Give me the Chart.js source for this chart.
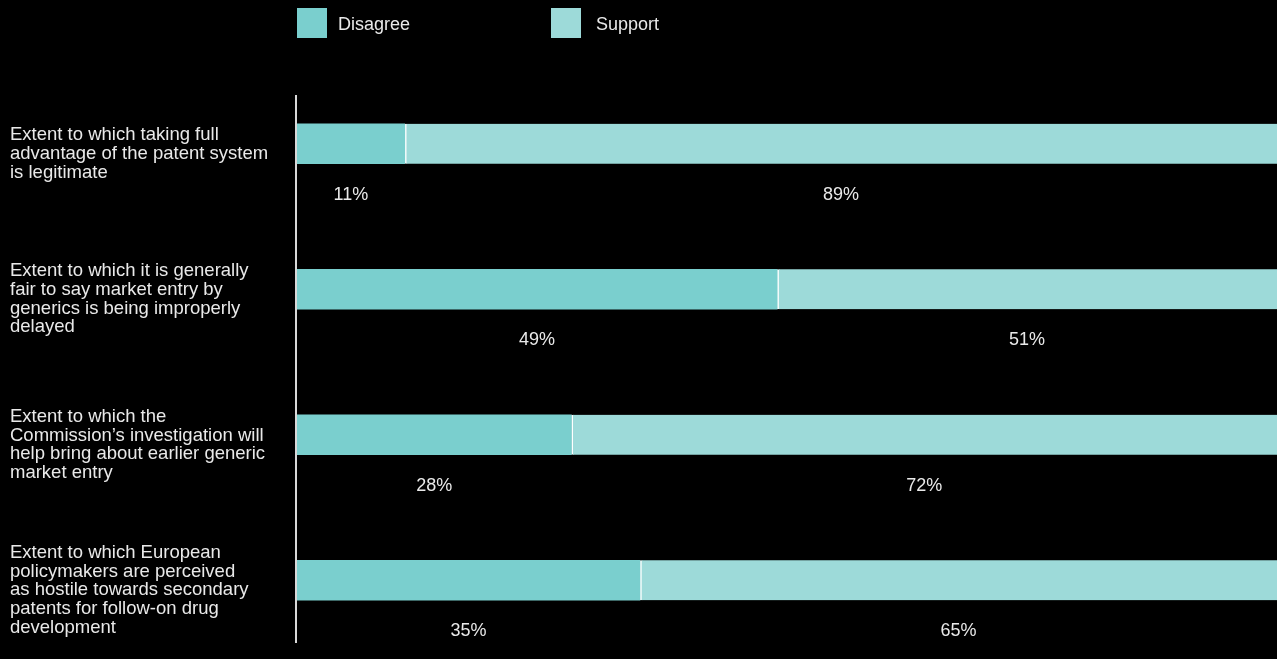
<!DOCTYPE html>
<html>
<head>
<meta charset="utf-8">
<script src="https://cdn.jsdelivr.net/npm/chart.js@4.4.1/dist/chart.umd.min.js"></script>
<style>
  html, body { margin: 0; padding: 0; background: #000; }
  #wrap { width: 1277px; height: 659px; position: relative; }
</style>
</head>
<body>
<div id="wrap"><canvas id="c"></canvas></div>
<script>
const categories = [
  ["Extent to which taking full", "advantage of the patent system", "is legitimate"],
  ["Extent to which it is generally", "fair to say market entry by", "generics is being improperly", "delayed"],
  ["Extent to which the", "Commission\u2019s investigation will", "help bring about earlier generic", "market entry"],
  ["Extent to which European", "policymakers are perceived", "as hostile towards secondary", "patents for follow-on drug", "development"]
];
const seriesNames = ["Disagree", "Support"];
const disagreeValues = [11, 49, 28, 35];
const supportValues = [89, 51, 72, 65];

const COL_DIS = "#7acfce";
const COL_SUP = "#9ddad9";
const TEXT = "#e9e9e9";
const FONT = "Liberation Sans, Arial, Helvetica, sans-serif";

const overlayPlugin = {
  id: "overlay",
  afterDraw(chart) {
    const ctx = chart.ctx;
    const area = chart.chartArea;
    ctx.save();
    // axis line
    ctx.strokeStyle = "#d8d8d8";
    ctx.lineWidth = 2;
    ctx.beginPath();
    ctx.moveTo(area.left - 1, area.top + 24);
    ctx.lineTo(area.left - 1, area.bottom - 10);
    ctx.stroke();
    // value labels below segments
    ctx.font = "18px " + FONT;
    ctx.fillStyle = TEXT;
    ctx.textAlign = "center";
    ctx.textBaseline = "middle";
    chart.data.datasets.forEach((ds, di) => {
      const meta = chart.getDatasetMeta(di);
      meta.data.forEach((el, i) => {
        const p = el.getProps(["x", "y", "base", "height"], true);
        const cx = (p.x + p.base) / 2;
        const cy = p.y + p.height / 2 + 31;
        ctx.fillText(ds.data[i] + "%", cx, cy);
      });
    });
    // legend
    const items = chart.data.datasets.map(d => ({ text: d.label, color: d.backgroundColor }));
    const offsets = [0, 254];
    ctx.textAlign = "left";
    items.forEach((it, i) => {
      const x = area.left + offsets[i];
      ctx.fillStyle = it.color;
      ctx.fillRect(x, 8, 30, 30);
      ctx.fillStyle = TEXT;
      ctx.fillText(it.text, x + 41 + (i === 1 ? 4 : 0), 25);
    });
    ctx.restore();
  }
};

new Chart(document.getElementById("c"), {
  type: "bar",
  data: {
    labels: categories,
    datasets: [
      {
        label: seriesNames[0],
        data: disagreeValues,
        backgroundColor: COL_DIS,
        borderWidth: 0,
        barThickness: 40
      },
      {
        label: seriesNames[1],
        data: supportValues,
        backgroundColor: COL_SUP,
        borderColor: "#ffffff",
        borderWidth: { left: 2, right: 0, top: 0, bottom: 0 },
        borderSkipped: false,
        barThickness: 40
      }
    ]
  },
  options: {
    indexAxis: "y",
    responsive: true,
    maintainAspectRatio: false,
    animation: false,
    layout: { padding: { top: 71, bottom: 6, left: 10, right: 0 } },
    plugins: {
      legend: { display: false },
      tooltip: { enabled: false }
    },
    scales: {
      x: {
        stacked: true,
        min: 0,
        max: 100,
        display: false
      },
      y: {
        stacked: true,
        grid: { display: false, drawTicks: false },
        border: { display: false },
        afterFit(scale) {
          scale.width = 287;
          scale.paddingTop = 0;
          scale.paddingBottom = 0;
        },
        ticks: {
          crossAlign: "far",
          labelOffset: 10,
          color: TEXT,
          font: { size: 18.5, family: FONT, lineHeight: 1.01 }
        }
      }
    }
  },
  plugins: [overlayPlugin]
});
</script>
</body>
</html>
